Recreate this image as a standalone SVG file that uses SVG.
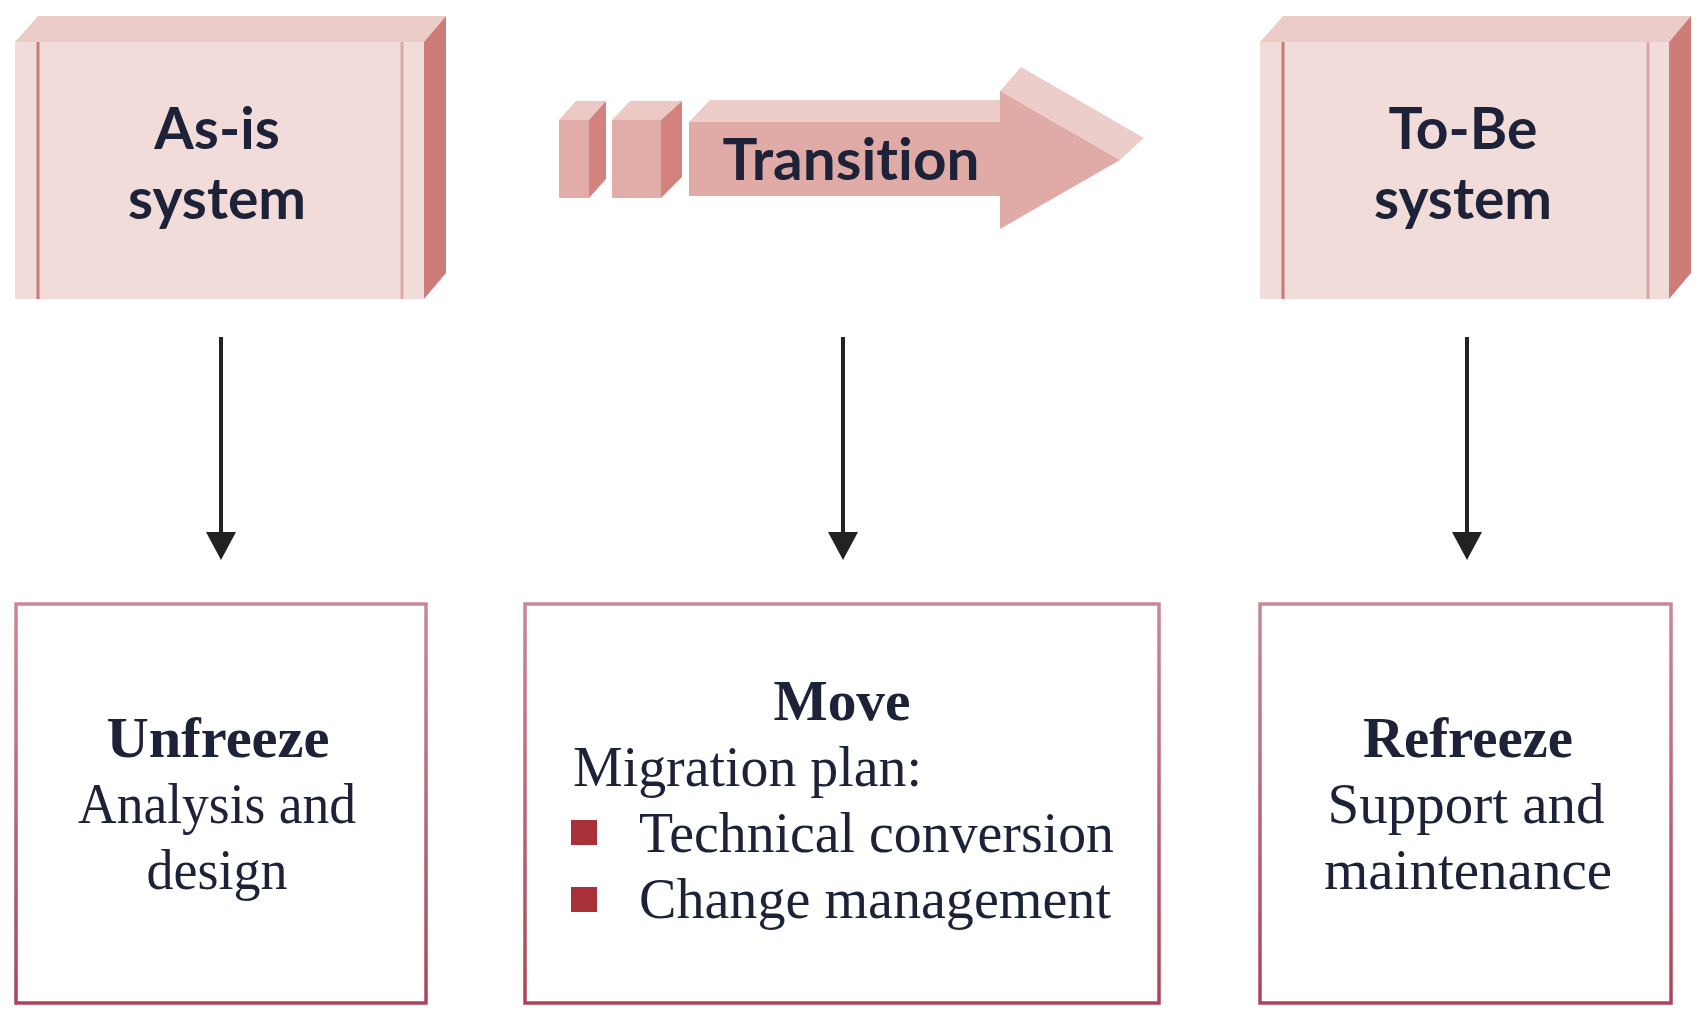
<svg xmlns="http://www.w3.org/2000/svg" width="1704" height="1020" viewBox="0 0 1704 1020">
  <style>
    .front { fill: #f2dcda; }
    .top { fill: #ecccc8; }
    .side { fill: #cd7c78; }
    .stripeL { stroke: #c47c7a; stroke-width: 3; }
    .stripeR { stroke: #dca7a5; stroke-width: 3; }
    .title { font-family: Lato, "Open Sans", sans-serif; font-weight: bold; font-size: 57px; fill: #1d2238; text-anchor: middle; font-variant-ligatures: none; }
    .box { fill: #ffffff; stroke: url(#boxStroke); stroke-width: 3.5; }
    .head { font-family: "Liberation Serif", serif; font-weight: bold; font-size: 58px; fill: #1d2238; }
    .body { font-family: "Liberation Serif", serif; font-size: 58px; fill: #1d2238; }
    .mid { text-anchor: middle; }
    .conn { stroke: #222222; stroke-width: 4; fill: none; }
    .bullet { fill: #a8313a; }
  </style>
  <defs>
    <linearGradient id="boxStroke" x1="0" y1="0" x2="0" y2="1">
      <stop offset="0" stop-color="#c98894"/>
      <stop offset="1" stop-color="#a9455a"/>
    </linearGradient>
    <marker id="ah" markerUnits="userSpaceOnUse" markerWidth="30" markerHeight="32" viewBox="0 -16 30 32" refX="0" refY="0" orient="auto">
      <path d="M0,-15 L28,0 L0,15 z" fill="#222222"/>
    </marker>
  </defs>
  <rect width="1704" height="1020" fill="#ffffff"/>

  <!-- As-is system -->
  <g id="asis">
    <polygon class="top" points="15,42 38,16 446,16 424,42"/>
    <polygon class="side" points="424,42 446,16 446,273 424,299"/>
    <rect class="front" x="15" y="42" width="409" height="257"/>
    <line class="stripeL" x1="38" y1="42" x2="38" y2="299"/>
    <line class="stripeR" x1="402" y1="42" x2="402" y2="299"/>
    <text class="title" x="217" y="149">As-is</text>
    <text class="title" x="217" y="219">system</text>
  </g>

  <!-- Transition arrow -->
  <g id="transition">
    <polygon fill="#ecc9c5" points="559,120 576,101 606,101 589,120"/>
    <polygon fill="#d4827e" points="589,120 606,101 606,179 589,198"/>
    <rect fill="#e2aca8" x="559" y="120" width="30" height="78"/>
    <polygon fill="#ecc9c5" points="612,120 630,101 682,101 661,120"/>
    <polygon fill="#d4827e" points="661,120 682,101 682,177 661,198"/>
    <rect fill="#e2aca8" x="612" y="120" width="49" height="78"/>
    <polygon fill="#eccdca" points="689,122 710,100 1021,100 1000,122"/>
    <polygon fill="#eccdca" points="1000,91 1021,67 1144,138 1120,160"/>
    <polygon fill="#e0aaa6" points="689,122 1000,122 1000,91 1120,160 1000,229 1000,196 689,196"/>
    <text class="title" x="851" y="180" font-size="58" textLength="257" lengthAdjust="spacingAndGlyphs">Transition</text>
  </g>

  <!-- To-Be system -->
  <g id="tobe">
    <polygon class="top" points="1260,42 1283,16 1691,16 1669,42"/>
    <polygon class="side" points="1669,42 1691,16 1691,273 1669,299"/>
    <rect class="front" x="1260" y="42" width="409" height="257"/>
    <line class="stripeL" x1="1283" y1="42" x2="1283" y2="299"/>
    <line class="stripeR" x1="1648" y1="42" x2="1648" y2="299"/>
    <text class="title" x="1463" y="149">To-Be</text>
    <text class="title" x="1463" y="219">system</text>
  </g>

  <!-- Connectors -->
  <g id="connectors">
    <line class="conn" x1="221" y1="337" x2="221" y2="532" marker-end="url(#ah)"/>
    <line class="conn" x1="843" y1="337" x2="843" y2="532" marker-end="url(#ah)"/>
    <line class="conn" x1="1467" y1="337" x2="1467" y2="532" marker-end="url(#ah)"/>
  </g>

  <!-- Unfreeze -->
  <g id="unfreeze">
    <rect class="box" x="16" y="604" width="410" height="399"/>
    <text class="head mid" x="218" y="757" textLength="223" lengthAdjust="spacingAndGlyphs">Unfreeze</text>
    <text class="body mid" x="217" y="823" textLength="278" lengthAdjust="spacingAndGlyphs">Analysis and</text>
    <text class="body mid" x="217" y="889" textLength="141" lengthAdjust="spacingAndGlyphs">design</text>
  </g>

  <!-- Move -->
  <g id="move">
    <rect class="box" x="525" y="604" width="634" height="399"/>
    <text class="head mid" x="842" y="720" textLength="137" lengthAdjust="spacingAndGlyphs">Move</text>
    <text class="body" x="573" y="786" textLength="349" lengthAdjust="spacingAndGlyphs">Migration plan:</text>
    <rect class="bullet" x="571" y="820" width="26" height="25"/>
    <text class="body" x="639" y="852" textLength="475" lengthAdjust="spacingAndGlyphs">Technical conversion</text>
    <rect class="bullet" x="571" y="887" width="26" height="25"/>
    <text class="body" x="639" y="918" textLength="472" lengthAdjust="spacingAndGlyphs">Change management</text>
  </g>

  <!-- Refreeze -->
  <g id="refreeze">
    <rect class="box" x="1260" y="604" width="411" height="399"/>
    <text class="head mid" x="1468" y="757" textLength="210" lengthAdjust="spacingAndGlyphs">Refreeze</text>
    <text class="body mid" x="1466" y="823" textLength="277" lengthAdjust="spacingAndGlyphs">Support and</text>
    <text class="body mid" x="1468" y="889" textLength="288" lengthAdjust="spacingAndGlyphs">maintenance</text>
  </g>
</svg>
